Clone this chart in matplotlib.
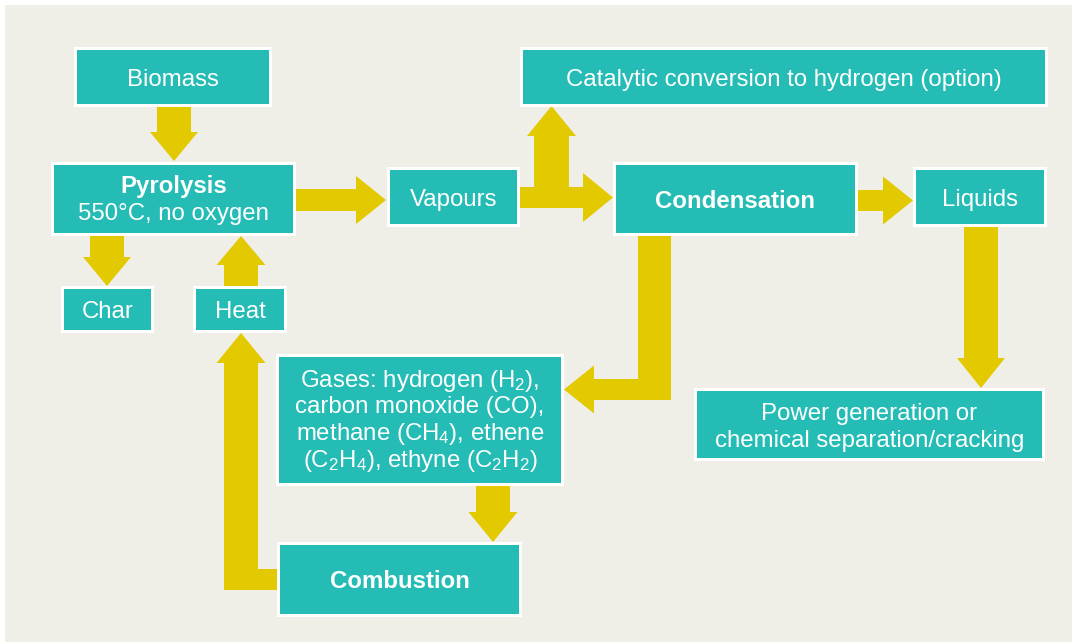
import matplotlib
matplotlib.use("Agg")
import matplotlib.pyplot as plt
from matplotlib.patches import Rectangle, Polygon
import numpy as np

plt.rcParams['font.family'] = ['Liberation Sans', 'DejaVu Sans']
plt.rcParams['mathtext.fontset'] = 'custom'
plt.rcParams['mathtext.rm'] = 'Liberation Sans'
plt.rcParams['mathtext.it'] = 'Liberation Sans:italic'
plt.rcParams['mathtext.bf'] = 'Liberation Sans:bold'

# ---- content ----
node_names = ["Biomass", "Pyrolysis", "Char", "Heat", "Vapours", "Catalytic",
              "Condensation", "Liquids", "Gases", "Combustion", "Power"]
node_lines = {
    "Biomass": [("Biomass", "normal")],
    "Pyrolysis": [("Pyrolysis", "bold"), ("550°C, no oxygen", "normal")],
    "Char": [("Char", "normal")],
    "Heat": [("Heat", "normal")],
    "Vapours": [("Vapours", "normal")],
    "Catalytic": [("Catalytic conversion to hydrogen (option)", "normal")],
    "Condensation": [("Condensation", "bold")],
    "Liquids": [("Liquids", "normal")],
    "Gases": [(r"Gases: hydrogen (H$_\mathregular{2}$),", "normal"),
              ("carbon monoxide (CO),", "normal"),
              (r"methane (CH$_\mathregular{4}$), ethene", "normal"),
              (r"(C$_\mathregular{2}$H$_\mathregular{4}$), ethyne (C$_\mathregular{2}$H$_\mathregular{2}$)", "normal")],
    "Combustion": [("Combustion", "bold")],
    "Power": [("Power generation or", "normal"),
              ("chemical separation/cracking", "normal")],
}

# ---- layout (pixel coordinates, y downwards) ----
boxes = {  # x0, y0, x1, y1 (outer, incl. white border)
    "Biomass": (74, 47, 272, 107),
    "Pyrolysis": (51, 162, 296, 236),
    "Char": (61, 286, 154, 333),
    "Heat": (193, 286, 287, 333),
    "Vapours": (387, 167, 520, 227),
    "Catalytic": (520, 47, 1048, 107),
    "Condensation": (613, 162, 858, 236),
    "Liquids": (913, 167, 1047, 227),
    "Gases": (276, 354, 564, 486),
    "Combustion": (277, 542, 522, 617),
    "Power": (694, 388, 1045, 461),
}
baselines = {
    "Pyrolysis": [193, 220],
    "Gases": [387, 413.5, 440, 466.5],
    "Power": [420, 446.5],
}

BG = "#EFEFE7"
TEAL = "#24BCB5"
YELLOW = "#E2C900"
FS = 17.3

W, H = 1072, 642
fig = plt.figure(figsize=(W / 100, H / 100), dpi=100)
ax = fig.add_axes([0, 0, 1, 1])
ax.set_xlim(0, W)
ax.set_ylim(H, 0)
ax.axis("off")
fig.patch.set_facecolor("white")

ax.add_patch(Rectangle((5, 5), W - 5, H - 5, facecolor=BG, edgecolor="none", zorder=0))


def arrow(x0, y0, x1, y1, sw, hw, hl):
    d = np.array([x1 - x0, y1 - y0], float)
    L = np.hypot(*d)
    u = d / L
    n = np.array([-u[1], u[0]])
    p0 = np.array([x0, y0], float)
    base = p0 + u * (L - hl)
    tip = np.array([x1, y1], float)
    pts = [p0 + n * sw / 2, base + n * sw / 2, base + n * hw / 2, tip,
           base - n * hw / 2, base - n * sw / 2, p0 - n * sw / 2]
    ax.add_patch(Polygon(pts, closed=True, facecolor=YELLOW, edgecolor="none", zorder=1))


def leg(x0, y0, x1, y1):
    ax.add_patch(Rectangle((x0, y0), x1 - x0, y1 - y0, facecolor=YELLOW,
                           edgecolor="none", zorder=1))


# straight arrows
arrow(174, 105, 174, 161, 34, 48, 29)       # Biomass -> Pyrolysis
arrow(107, 234, 107, 286, 34, 48, 29)       # Pyrolysis -> Char
arrow(241, 288, 241, 236, 34, 49, 29)       # Heat -> Pyrolysis
arrow(294, 200, 386, 200, 22, 48, 30)       # Pyrolysis -> Vapours
arrow(518, 197.5, 613, 197.5, 21, 49, 30)   # Vapours -> Condensation
arrow(551.5, 208, 551.5, 106, 35, 49, 30)   # branch -> Catalytic
arrow(856, 200.5, 913, 200.5, 21, 48, 30)   # Condensation -> Liquids
arrow(981, 226, 981, 388, 34, 48, 30)       # Liquids -> Power
# Condensation -> Gases (L shape)
leg(638, 234, 671, 400)
arrow(671, 389.5, 564, 389.5, 21, 48, 30)
arrow(493, 484, 493, 542, 34, 49, 30)       # Gases -> Combustion
# Combustion -> Heat (L shape)
leg(224, 569, 279, 590)
arrow(241, 590, 241, 333, 34, 49, 30)

# boxes
BW = 2.7
for name in node_names:
    x0, y0, x1, y1 = boxes[name]
    ax.add_patch(Rectangle((x0, y0), x1 - x0, y1 - y0, facecolor="white",
                           edgecolor="none", zorder=2))
    ax.add_patch(Rectangle((x0 + BW, y0 + BW), x1 - x0 - 2 * BW, y1 - y0 - 2 * BW,
                           facecolor=TEAL, edgecolor="none", zorder=3))
    cx = (x0 + x1) / 2
    lines = node_lines[name]
    if name in baselines:
        ys = baselines[name]
    else:
        ys = [(y0 + y1) / 2 + 8.6]
    for (txt, wt), yb in zip(lines, ys):
        ax.text(cx, yb, txt, ha="center", va="baseline", color="white",
                fontsize=FS, fontweight=wt, zorder=4)

fig.savefig("out.png", dpi=100, facecolor="white")
